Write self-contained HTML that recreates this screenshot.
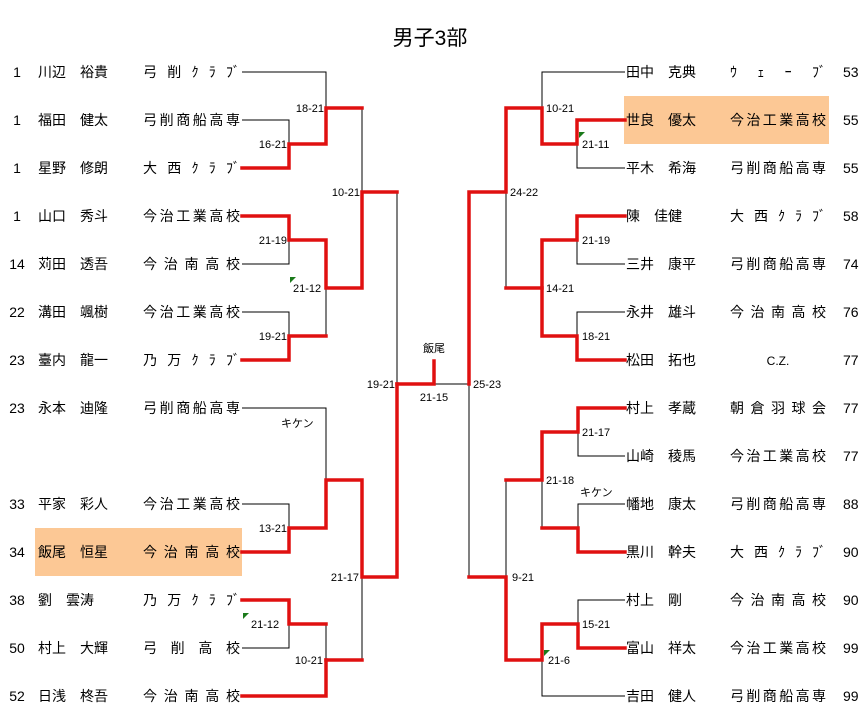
<!DOCTYPE html>
<html><head><meta charset="utf-8"><style>
html,body{margin:0;padding:0;background:#fff;}
svg{display:block;}
text{font-family:"Liberation Sans","Noto Sans CJK JP",sans-serif;fill:#000;}
.n{font-size:14px;}
.s{font-size:11px;}
</style></head><body>
<svg width="861" height="721" viewBox="0 0 861 721" xmlns="http://www.w3.org/2000/svg">
<rect width="861" height="721" fill="#fff"/>
<rect x="35" y="528" width="207" height="48" fill="#fcc895"/>
<rect x="624" y="96" width="205" height="48" fill="#fcc895"/>
<text x="430" y="45" font-size="21" text-anchor="middle">男子3部</text>

<g stroke="#000" stroke-width="1" fill="none" shape-rendering="crispEdges">
<!-- left -->
<polyline points="242,72 326,72 326,108"/>
<polyline points="242,120 289,120 289,144"/>
<line x1="362" y1="108" x2="362" y2="192"/>
<polyline points="397,192 397,384"/>
<polyline points="242,264 289,264 289,240"/>
<line x1="326" y1="288" x2="326" y2="336"/>
<polyline points="242,312 289,312 289,336"/>
<polyline points="242,408 326,408 326,480"/>
<polyline points="242,504 289,504 289,528"/>
<line x1="362" y1="577" x2="362" y2="660"/>
<polyline points="242,648 289,648 289,624"/>
<line x1="326" y1="624" x2="326" y2="660"/>
<line x1="434" y1="384" x2="469" y2="384"/>
<line x1="469" y1="384" x2="469" y2="577"/>
<!-- right -->
<polyline points="625,72 542,72 542,108"/>
<polyline points="625,168 577,168 577,144"/>
<line x1="506" y1="192" x2="506" y2="288"/>
<polyline points="625,264 577,264 577,240"/>
<polyline points="625,312 577,312 577,336"/>
<line x1="506" y1="480" x2="506" y2="577"/>
<polyline points="625,456 578,456 578,432"/>
<line x1="542" y1="480" x2="542" y2="528"/>
<polyline points="625,504 578,504 578,528"/>
<polyline points="625,600 578,600 578,624"/>
<polyline points="625,696 542,696 542,660"/>
</g>

<g stroke="#e01010" stroke-width="3.5" fill="none" stroke-linejoin="miter" stroke-linecap="square">
<!-- left -->
<polyline points="242,168 289,168 289,144 326,144 326,108 362,108"/>
<polyline points="242,216 289,216 289,240 326,240 326,288 362,288 362,192 397,192"/>
<polyline points="242,360 289,360 289,336 326,336"/>
<polyline points="397,384 434,384 434,361"/>
<polyline points="397,384 397,577 362,577 362,480 326,480 326,528 289,528 289,552 242,552"/>
<polyline points="242,600 289,600 289,624 326,624"/>
<polyline points="326,660 362,660"/>
<polyline points="242,696 326,696 326,660"/>
<!-- right -->
<polyline points="625,120 577,120 577,144 542,144 542,108 506,108 506,192 469,192 469,384"/>
<polyline points="625,216 577,216 577,240 542,240 542,336 577,336 577,360 625,360"/>
<polyline points="506,288 542,288"/>
<polyline points="625,408 578,408 578,432 542,432 542,480 506,480"/>
<polyline points="625,552 578,552 578,528 542,528"/>
<polyline points="469,577 506,577 506,660 542,660 542,624 578,624 578,648 625,648"/>
</g>

<g fill="#1a7a1a">
<polygon points="290,277 296,277 290,283"/>
<polygon points="243,613 249,613 243,619"/>
<polygon points="579,132 585,132 579,138"/>
<polygon points="544,650 550,650 544,656"/>
</g>

<g class="s">
<text x="324" y="112" text-anchor="end">18-21</text>
<text x="287" y="148" text-anchor="end">16-21</text>
<text x="360" y="196" text-anchor="end">10-21</text>
<text x="287" y="244" text-anchor="end">21-19</text>
<text x="293" y="292">21-12</text>
<text x="287" y="340" text-anchor="end">19-21</text>
<text x="395" y="388" text-anchor="end">19-21</text>
<text x="281" y="427">キケン</text>
<text x="287" y="532" text-anchor="end">13-21</text>
<text x="359" y="581" text-anchor="end">21-17</text>
<text x="251" y="628">21-12</text>
<text x="323" y="664" text-anchor="end">10-21</text>
<text x="434" y="352" text-anchor="middle">飯尾</text>
<text x="434" y="401" text-anchor="middle">21-15</text>
<text x="473" y="388">25-23</text>
<text x="546" y="112">10-21</text>
<text x="582" y="148">21-11</text>
<text x="510" y="196">24-22</text>
<text x="582" y="244">21-19</text>
<text x="546" y="292">14-21</text>
<text x="582" y="340">18-21</text>
<text x="582" y="436">21-17</text>
<text x="546" y="484">21-18</text>
<text x="580" y="496">キケン</text>
<text x="512" y="581">9-21</text>
<text x="582" y="628">15-21</text>
<text x="548" y="664">21-6</text>
</g>

<g class="n">
<!-- left ranks -->
<text x="17" y="77" text-anchor="middle">1</text>
<text x="17" y="125" text-anchor="middle">1</text>
<text x="17" y="173" text-anchor="middle">1</text>
<text x="17" y="221" text-anchor="middle">1</text>
<text x="17" y="269" text-anchor="middle">14</text>
<text x="17" y="317" text-anchor="middle">22</text>
<text x="17" y="365" text-anchor="middle">23</text>
<text x="17" y="413" text-anchor="middle">23</text>
<text x="17" y="509" text-anchor="middle">33</text>
<text x="17" y="557" text-anchor="middle">34</text>
<text x="17" y="605" text-anchor="middle">38</text>
<text x="17" y="653" text-anchor="middle">50</text>
<text x="17" y="701" text-anchor="middle">52</text>
<!-- left names -->
<text x="38" y="77">川辺　裕貴</text>
<text x="38" y="125">福田　健太</text>
<text x="38" y="173">星野　修朗</text>
<text x="38" y="221">山口　秀斗</text>
<text x="38" y="269">苅田　透吾</text>
<text x="38" y="317">溝田　颯樹</text>
<text x="38" y="365">臺内　龍一</text>
<text x="38" y="413">永本　迪隆</text>
<text x="38" y="509">平家　彩人</text>
<text x="38" y="557">飯尾　恒星</text>
<text x="38" y="605">劉　雲涛</text>
<text x="38" y="653">村上　大輝</text>
<text x="38" y="701">日浅　柊吾</text>
<!-- left teams -->
<text x="143" y="77" textLength="97" lengthAdjust="spacing">弓削ｸﾗﾌﾞ</text>
<text x="143" y="125" textLength="97" lengthAdjust="spacing">弓削商船高専</text>
<text x="143" y="173" textLength="97" lengthAdjust="spacing">大西ｸﾗﾌﾞ</text>
<text x="143" y="221" textLength="97" lengthAdjust="spacing">今治工業高校</text>
<text x="143" y="269" textLength="97" lengthAdjust="spacing">今治南高校</text>
<text x="143" y="317" textLength="97" lengthAdjust="spacing">今治工業高校</text>
<text x="143" y="365" textLength="97" lengthAdjust="spacing">乃万ｸﾗﾌﾞ</text>
<text x="143" y="413" textLength="97" lengthAdjust="spacing">弓削商船高専</text>
<text x="143" y="509" textLength="97" lengthAdjust="spacing">今治工業高校</text>
<text x="143" y="557" textLength="97" lengthAdjust="spacing">今治南高校</text>
<text x="143" y="605" textLength="97" lengthAdjust="spacing">乃万ｸﾗﾌﾞ</text>
<text x="143" y="653" textLength="97" lengthAdjust="spacing">弓削高校</text>
<text x="143" y="701" textLength="97" lengthAdjust="spacing">今治南高校</text>
<!-- right names -->
<text x="626" y="77">田中　克典</text>
<text x="626" y="125">世良　優太</text>
<text x="626" y="173">平木　希海</text>
<text x="626" y="221">陳　佳健</text>
<text x="626" y="269">三井　康平</text>
<text x="626" y="317">永井　雄斗</text>
<text x="626" y="365">松田　拓也</text>
<text x="626" y="413">村上　孝蔵</text>
<text x="626" y="461">山崎　稜馬</text>
<text x="626" y="509">幡地　康太</text>
<text x="626" y="557">黒川　幹夫</text>
<text x="626" y="605">村上　剛</text>
<text x="626" y="653">富山　祥太</text>
<text x="626" y="701">吉田　健人</text>
<!-- right teams -->
<text x="730" y="77" textLength="96" lengthAdjust="spacing">ｳｪｰﾌﾞ</text>
<text x="730" y="125" textLength="96" lengthAdjust="spacing">今治工業高校</text>
<text x="730" y="173" textLength="96" lengthAdjust="spacing">弓削商船高専</text>
<text x="730" y="221" textLength="96" lengthAdjust="spacing">大西ｸﾗﾌﾞ</text>
<text x="730" y="269" textLength="96" lengthAdjust="spacing">弓削商船高専</text>
<text x="730" y="317" textLength="96" lengthAdjust="spacing">今治南高校</text>
<text x="778" y="365" text-anchor="middle" font-size="12">C.Z.</text>
<text x="730" y="413" textLength="96" lengthAdjust="spacing">朝倉羽球会</text>
<text x="730" y="461" textLength="96" lengthAdjust="spacing">今治工業高校</text>
<text x="730" y="509" textLength="96" lengthAdjust="spacing">弓削商船高専</text>
<text x="730" y="557" textLength="96" lengthAdjust="spacing">大西ｸﾗﾌﾞ</text>
<text x="730" y="605" textLength="96" lengthAdjust="spacing">今治南高校</text>
<text x="730" y="653" textLength="96" lengthAdjust="spacing">今治工業高校</text>
<text x="730" y="701" textLength="96" lengthAdjust="spacing">弓削商船高専</text>
<!-- right ranks -->
<text x="843" y="77">53</text>
<text x="843" y="125">55</text>
<text x="843" y="173">55</text>
<text x="843" y="221">58</text>
<text x="843" y="269">74</text>
<text x="843" y="317">76</text>
<text x="843" y="365">77</text>
<text x="843" y="413">77</text>
<text x="843" y="461">77</text>
<text x="843" y="509">88</text>
<text x="843" y="557">90</text>
<text x="843" y="605">90</text>
<text x="843" y="653">99</text>
<text x="843" y="701">99</text>
</g>
</svg>
</body></html>
